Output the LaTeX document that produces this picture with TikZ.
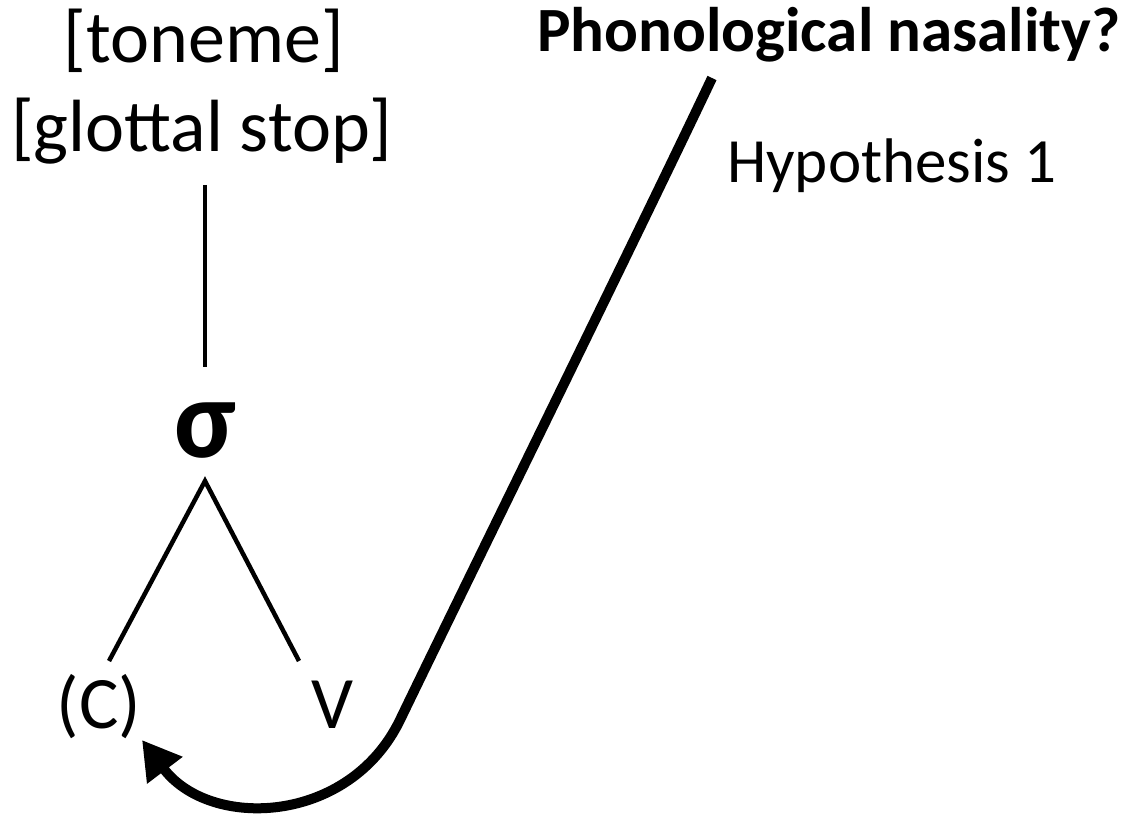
\documentclass[tikz,border=0pt]{standalone}
\usepackage{fontspec}
\setmainfont{Carlito}
\usetikzlibrary{arrows.meta}
\begin{document}
\begin{tikzpicture}[x=1pt,y=-1pt,
  lbl/.style={inner sep=0pt,anchor=base,font=\fontsize{74}{88}\selectfont},
  hyp/.style={inner sep=0pt,anchor=base west,font=\fontsize{63}{76}\selectfont},
  ttl/.style={inner sep=0pt,anchor=base west,font=\bfseries\fontsize{63}{76}\selectfont},
  sig/.style={inner sep=0pt,anchor=base,font=\bfseries\fontsize{113}{130}\selectfont},
  branch/.style={line width=4.5pt},
  bigarrow/.style={line width=10pt,-{Triangle[length=38pt,width=42pt]}}]
\useasboundingbox (0,0) rectangle (1130,818);
\node[lbl] (ton) at (204,63) {[toneme]};
\node[lbl] (glo) at (202,152) {[glottal stop]};
\node[ttl] (pho) at (537,52) {Phonological nasality?};
\node[hyp] (hyp) at (727,183) {Hypothesis 1};
\node[sig] (sig) at (205,457) {σ};
\node[lbl] (c) at (99,728) {(C)};
\node[lbl] (v) at (332,728) {V};
\coordinate (vtop) at (205,185);
\coordinate (vbot) at (205,367);
\coordinate (apex) at (205,481);
\coordinate (lleg) at (109,661);
\coordinate (rleg) at (299,661);
\coordinate (astart) at (712,78);
\coordinate (abend) at (400,720);
\coordinate (atip) at (142,740);
\draw[branch] (vtop) -- (vbot);
\draw[branch] (lleg) -- (apex) -- (rleg);
\draw[bigarrow] (astart) .. controls (640,230) and (470,575) .. (abend) .. controls (349,825) and (210,830) .. (atip);
\end{tikzpicture}
\end{document}
